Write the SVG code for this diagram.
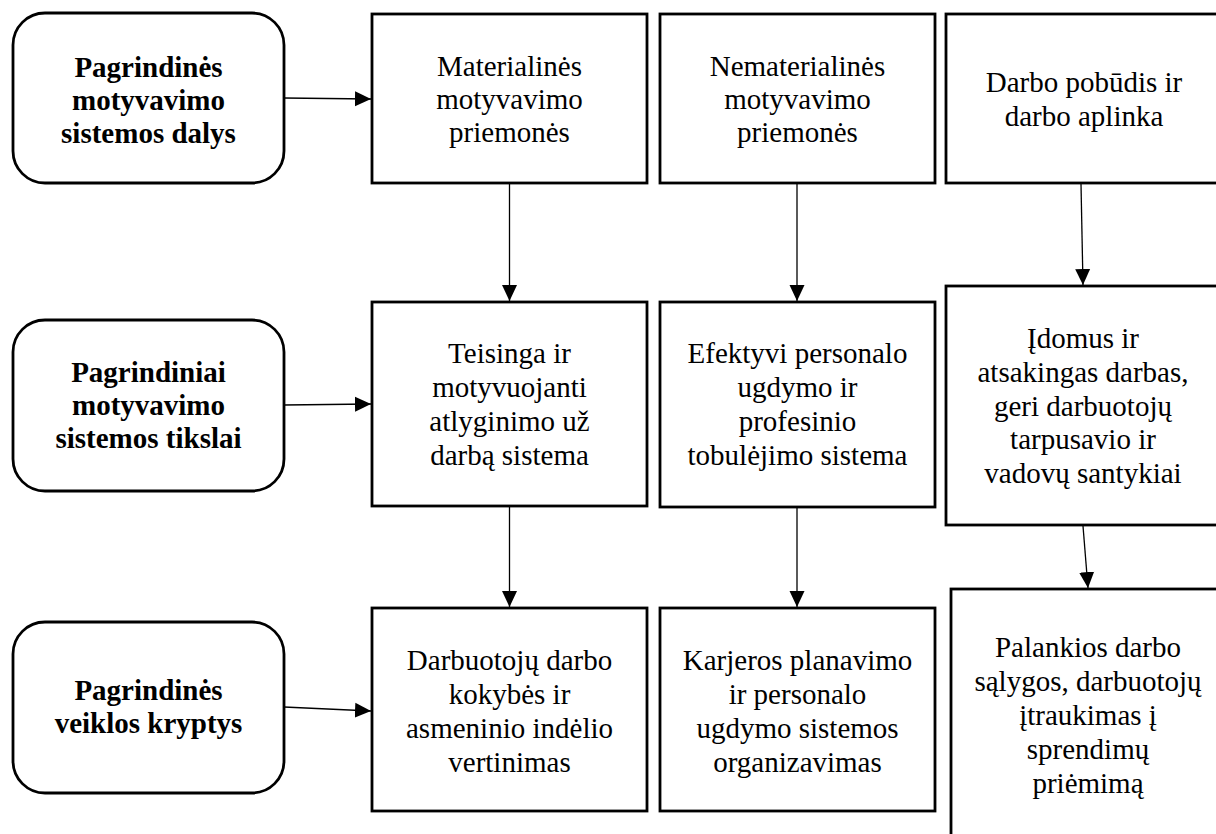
<svg xmlns="http://www.w3.org/2000/svg" width="1216" height="834" viewBox="0 0 1216 834">
  <style>
    .box { fill: #ffffff; stroke: #000000; stroke-width: 2.8; }
    .lbl { font-family: "Liberation Serif", "Times New Roman", serif; font-size: 29px; fill: #000000; text-anchor: middle; }
    .head { font-weight: bold; }
    .conn { fill: none; stroke: #000000; stroke-width: 1.3; }
  </style>
  <defs>
    <marker id="arrow" markerUnits="userSpaceOnUse" markerWidth="16" markerHeight="16" viewBox="0 0 16 16" refX="16" refY="8" orient="auto">
      <path d="M0,0.5 L16,8 L0,15.5 Z" fill="#000000"/>
    </marker>
  </defs>
  <rect width="1216" height="834" fill="#ffffff"/>

  <!-- connectors -->
  <g id="connectors">
    <path class="conn" d="M284,98 L371,99" marker-end="url(#arrow)"/>
    <path class="conn" d="M284,405 L371,404" marker-end="url(#arrow)"/>
    <path class="conn" d="M284,707 L371,711" marker-end="url(#arrow)"/>
    <path class="conn" d="M509.5,184 L509.5,301" marker-end="url(#arrow)"/>
    <path class="conn" d="M797,184 L797,301" marker-end="url(#arrow)"/>
    <path class="conn" d="M1081,184 L1083,285" marker-end="url(#arrow)"/>
    <path class="conn" d="M509.5,507 L509.5,607" marker-end="url(#arrow)"/>
    <path class="conn" d="M797,508 L797,607" marker-end="url(#arrow)"/>
    <path class="conn" d="M1083,526 L1088,588" marker-end="url(#arrow)"/>
  </g>

  <!-- row headings -->
  <g id="head-parts">
    <rect class="box" x="13" y="13" width="271" height="170" rx="32" ry="32"/>
    <text class="lbl head" x="148.5" y="77">Pagrindinės</text>
    <text class="lbl head" x="148.5" y="110">motyvavimo</text>
    <text class="lbl head" x="148.5" y="143">sistemos dalys</text>
  </g>
  <g id="head-goals">
    <rect class="box" x="13" y="320" width="271" height="171" rx="32" ry="32"/>
    <text class="lbl head" x="148.5" y="382">Pagrindiniai</text>
    <text class="lbl head" x="148.5" y="415">motyvavimo</text>
    <text class="lbl head" x="148.5" y="448">sistemos tikslai</text>
  </g>
  <g id="head-directions">
    <rect class="box" x="13" y="622" width="271" height="171" rx="32" ry="32"/>
    <text class="lbl head" x="148.5" y="700">Pagrindinės</text>
    <text class="lbl head" x="148.5" y="733">veiklos kryptys</text>
  </g>

  <!-- row 1 -->
  <g id="material">
    <rect class="box" x="372" y="14" width="275" height="169"/>
    <text class="lbl" x="509.5" y="76">Materialinės</text>
    <text class="lbl" x="509.5" y="109">motyvavimo</text>
    <text class="lbl" x="509.5" y="142">priemonės</text>
  </g>
  <g id="nonmaterial">
    <rect class="box" x="660" y="14" width="275" height="169"/>
    <text class="lbl" x="797.5" y="76">Nematerialinės</text>
    <text class="lbl" x="797.5" y="109">motyvavimo</text>
    <text class="lbl" x="797.5" y="142">priemonės</text>
  </g>
  <g id="work-nature">
    <rect class="box" x="946" y="14" width="276" height="169"/>
    <text class="lbl" x="1084" y="92">Darbo pobūdis ir</text>
    <text class="lbl" x="1084" y="126">darbo aplinka</text>
  </g>

  <!-- row 2 -->
  <g id="pay-system">
    <rect class="box" x="372" y="302" width="275" height="204"/>
    <text class="lbl" x="509.5" y="363">Teisinga ir</text>
    <text class="lbl" x="509.5" y="397">motyvuojanti</text>
    <text class="lbl" x="509.5" y="431">atlyginimo už</text>
    <text class="lbl" x="509.5" y="465">darbą sistema</text>
  </g>
  <g id="development-system">
    <rect class="box" x="660" y="302" width="275" height="205"/>
    <text class="lbl" x="797.5" y="363">Efektyvi personalo</text>
    <text class="lbl" x="797.5" y="397">ugdymo ir</text>
    <text class="lbl" x="797.5" y="431">profesinio</text>
    <text class="lbl" x="797.5" y="465">tobulėjimo sistema</text>
  </g>
  <g id="interesting-work">
    <rect class="box" x="946" y="286" width="276" height="239"/>
    <text class="lbl" x="1083" y="348">Įdomus ir</text>
    <text class="lbl" x="1083" y="382">atsakingas darbas,</text>
    <text class="lbl" x="1083" y="416">geri darbuotojų</text>
    <text class="lbl" x="1083" y="449">tarpusavio ir</text>
    <text class="lbl" x="1083" y="483">vadovų santykiai</text>
  </g>

  <!-- row 3 -->
  <g id="evaluation">
    <rect class="box" x="372" y="608" width="275" height="203"/>
    <text class="lbl" x="509.5" y="670">Darbuotojų darbo</text>
    <text class="lbl" x="509.5" y="704">kokybės ir</text>
    <text class="lbl" x="509.5" y="738">asmeninio indėlio</text>
    <text class="lbl" x="509.5" y="772">vertinimas</text>
  </g>
  <g id="career-planning">
    <rect class="box" x="660" y="608" width="275" height="203"/>
    <text class="lbl" x="797.5" y="670">Karjeros planavimo</text>
    <text class="lbl" x="797.5" y="704">ir personalo</text>
    <text class="lbl" x="797.5" y="738">ugdymo sistemos</text>
    <text class="lbl" x="797.5" y="772">organizavimas</text>
  </g>
  <g id="work-conditions">
    <rect class="box" x="951" y="589" width="276" height="260"/>
    <text class="lbl" x="1088" y="657">Palankios darbo</text>
    <text class="lbl" x="1088" y="691">sąlygos, darbuotojų</text>
    <text class="lbl" x="1088" y="725">įtraukimas į</text>
    <text class="lbl" x="1088" y="759">sprendimų</text>
    <text class="lbl" x="1088" y="793">priėmimą</text>
  </g>
</svg>
